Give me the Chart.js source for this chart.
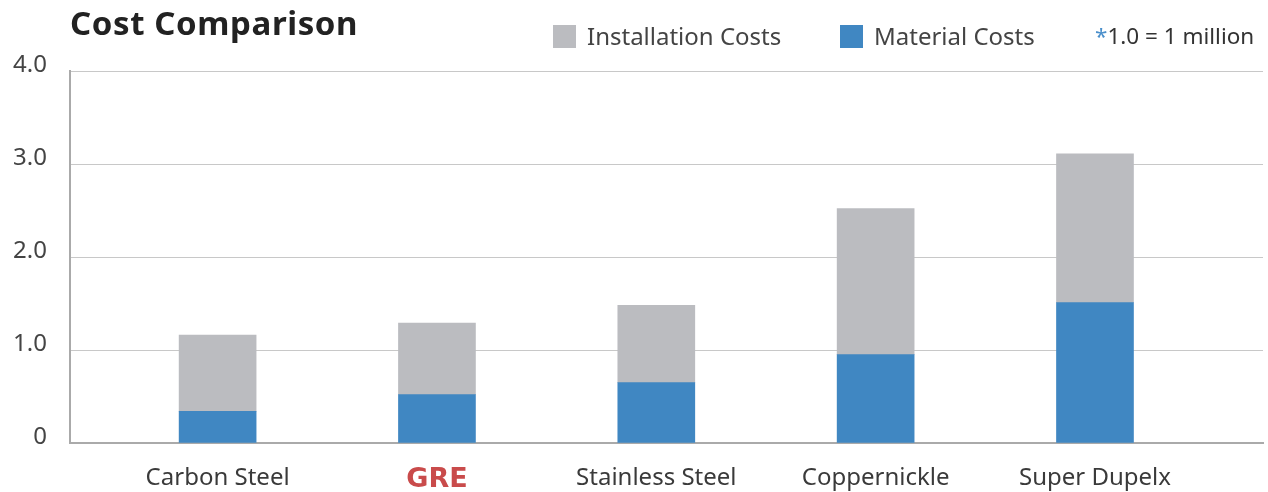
<!DOCTYPE html>
<html lang="en">
<head>
  <meta charset="UTF-8" />
  <title>Cost Comparison</title>
  <script src="https://cdn.jsdelivr.net/npm/chart.js"></script>
  <style>
    body { margin: 0; background: #fff; font-family: "Noto Sans", sans-serif; }
    .wrap { position: relative; width: 1268px; height: 492px; }
    .title { position: absolute; left: 70px; top: 6px; font-size: 33px; font-weight: 700; color: #222; line-height: 33px; letter-spacing: 0.6px; }
    .legend div { position: absolute; top: 24px; display: flex; align-items: center; font-size: 24px; color: #444; line-height: 24px; }
    .legend .box { width: 23px; height: 23px; margin-right: 11px; }
    .legend .note { color: #333; font-size: 22.5px; }
    .legend .note span { color: #4a8fcb; }
  </style>
</head>
<body>
<div class="wrap">
  <canvas id="costChart" width="1268" height="492"></canvas>
  <div class="title">Cost Comparison</div>
  <div class="legend" id="legend"></div>
</div>
<script>
  // values (1.0 = 1 million)
  const categories = ["Carbon Steel", "GRE", "Stainless Steel", "Coppernickle", "Super Dupelx"];
  const materialCosts = [0.34, 0.52, 0.65, 0.95, 1.51];
  const installationCosts = [0.82, 0.77, 0.83, 1.57, 1.60];
  const yTicks = [0, 1, 2, 3, 4];

  const grey = "#bbbcc0";
  const blue = "#4087c2";

  // html legend
  document.getElementById("legend").innerHTML =
    `<div style="left:553px"><i class="box" style="background:${grey}"></i>Installation Costs</div>` +
    `<div style="left:840px"><i class="box" style="background:${blue}"></i>Material Costs</div>` +
    `<div class="note" style="left:1095px"><span>*</span>1.0 = 1 million</div>`;

  const toPoints = arr => arr.map((v, i) => ({ x: i, y: v }));

  new Chart(document.getElementById("costChart").getContext("2d"), {
    type: "bar",
    data: {
      datasets: [
        { label: "Material Costs", data: toPoints(materialCosts), backgroundColor: blue, barThickness: 77 },
        { label: "Installation Costs", data: toPoints(installationCosts), backgroundColor: grey, barThickness: 77 }
      ]
    },
    options: {
      responsive: false,
      animation: false,
      layout: { padding: { top: 71, right: 5, left: 0, bottom: 0 } },
      plugins: { legend: { display: false }, tooltip: { enabled: false } },
      scales: {
        x: {
          type: "linear",
          stacked: true,
          offset: false,
          min: -0.673,
          max: 4.766,
          afterBuildTicks: scale => { scale.ticks = categories.map((c, i) => ({ value: i })); },
          afterFit: scale => { scale.height = 49; },
          grid: { display: false, drawTicks: false },
          border: { color: "#aaaaaa", width: 2 },
          ticks: {
            autoSkip: false,
            maxRotation: 0,
            padding: 21,
            callback: v => categories[v],
            color: ctx => ctx.index === 1 ? "#c94b4b" : "#3a3a3a",
            font: ctx => ctx.index === 1
              ? { family: "DejaVu Sans", size: 27, weight: "bold" }
              : { family: "Noto Sans", size: 24 }
          }
        },
        y: {
          stacked: true,
          min: 0,
          max: 4,
          afterBuildTicks: scale => { scale.ticks = yTicks.map(v => ({ value: v })); },
          afterFit: scale => { scale.width = 70; },
          grid: { color: "#c8c8c8", drawTicks: false },
          border: { color: "#aaaaaa", width: 2 },
          ticks: {
            padding: 23,
            labelOffset: -6,
            color: "#444",
            font: { family: "Noto Sans", size: 24 },
            callback: v => v === 0 ? "0" : v.toFixed(1)
          }
        }
      }
    }
  });
</script>
</body>
</html>
